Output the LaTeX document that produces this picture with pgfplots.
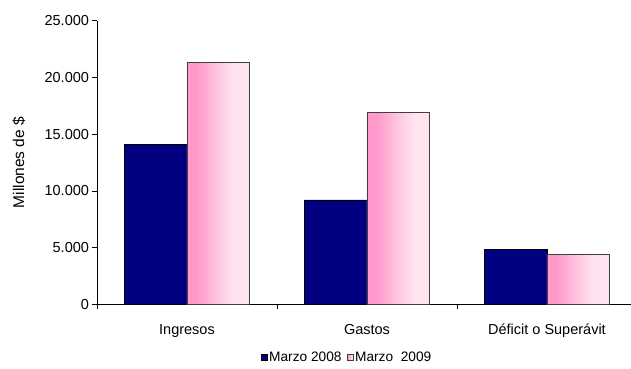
\documentclass[border=0pt]{standalone}
\usepackage{pgfplots}
\pgfplotsset{compat=1.18}
\usepackage{fontspec}
\setmainfont{Liberation Sans}
\definecolor{navybar}{RGB}{0,0,128}
\definecolor{pinkA}{RGB}{255,153,204}
\definecolor{pinkB}{RGB}{255,200,225}
\definecolor{pinkC}{RGB}{255,228,240}
\pgfdeclarehorizontalshading{pinkgrad}{100bp}{color(0bp)=(pinkA); color(25bp)=(pinkA); color(33bp)=(pinkA); color(50bp)=(pinkB); color(63bp)=(pinkC); color(75bp)=(pinkC); color(100bp)=(pinkC)}
\begin{document}
\begin{tikzpicture}
\useasboundingbox (-97pt,-63.7pt) rectangle (534pt,304.3pt);
\begin{axis}[
  at={(0,0)}, anchor=south west,
  scale only axis,
  width=534pt, height=283.5pt,
  xmin=-0.5, xmax=2.467,
  ymin=0, ymax=25000,
  axis x line=bottom, axis y line=left,
  axis line style={-, black, line width=0.8pt},
  tick style={black, line width=0.8pt},
  tick align=outside,
  major tick length=4.5pt,
  ytick={0,5000,10000,15000,20000,25000},
  scaled y ticks=false,
  /pgf/number format/.cd, 1000 sep={.}, assume math mode=true,
  /pgfplots/.cd,
  yticklabel style={font=\fontsize{14.5}{16}\selectfont},
  xtick={-0.5,0.5,1.5},
  xticklabels={},
  extra x ticks={0,1,2},
  extra x tick labels={Ingresos,Gastos,D\'eficit o Super\'avit},
  extra x tick style={major tick length=0pt, tick style={draw=none}, tick label style={font=\fontsize{14.5}{16}\selectfont, anchor=base, yshift=-30pt}},
  ylabel={Millones de \$},
  ylabel style={font=\fontsize{15.5}{17}\selectfont, at={(axis description cs:-0.146,0.5)}, anchor=center},
  ybar, bar width=62.5pt,
  legend style={draw=none, at={(axis description cs:0.468,-0.186)}, anchor=center,
    font=\fontsize{13.7}{15}\selectfont, legend columns=-1,
    /tikz/every even column/.append style={column sep=4pt},
    nodes={inner sep=1.5pt}},
  legend image code/.code={\draw[#1, line width=0.6pt] (0pt,-3pt) rectangle (6pt,3pt);},
  clip=false,
]
\addplot[bar shift=-31.25pt, fill=navybar, draw=black, line width=0.8pt] coordinates {(0,14100) (1,9200) (2,4850)};
\addplot[bar shift=31.25pt, shading=pinkgrad, draw=black!75, line width=0.8pt] coordinates {(0,21300)};
\addplot[bar shift=31.25pt, shading=pinkgrad, draw=black!75, line width=0.8pt, forget plot] coordinates {(1,16900)};
\addplot[bar shift=31.25pt, shading=pinkgrad, draw=black!75, line width=0.8pt, forget plot] coordinates {(2,4400)};
\legend{Marzo 2008, Marzo\ \ 2009}
\end{axis}
\end{tikzpicture}
\end{document}
